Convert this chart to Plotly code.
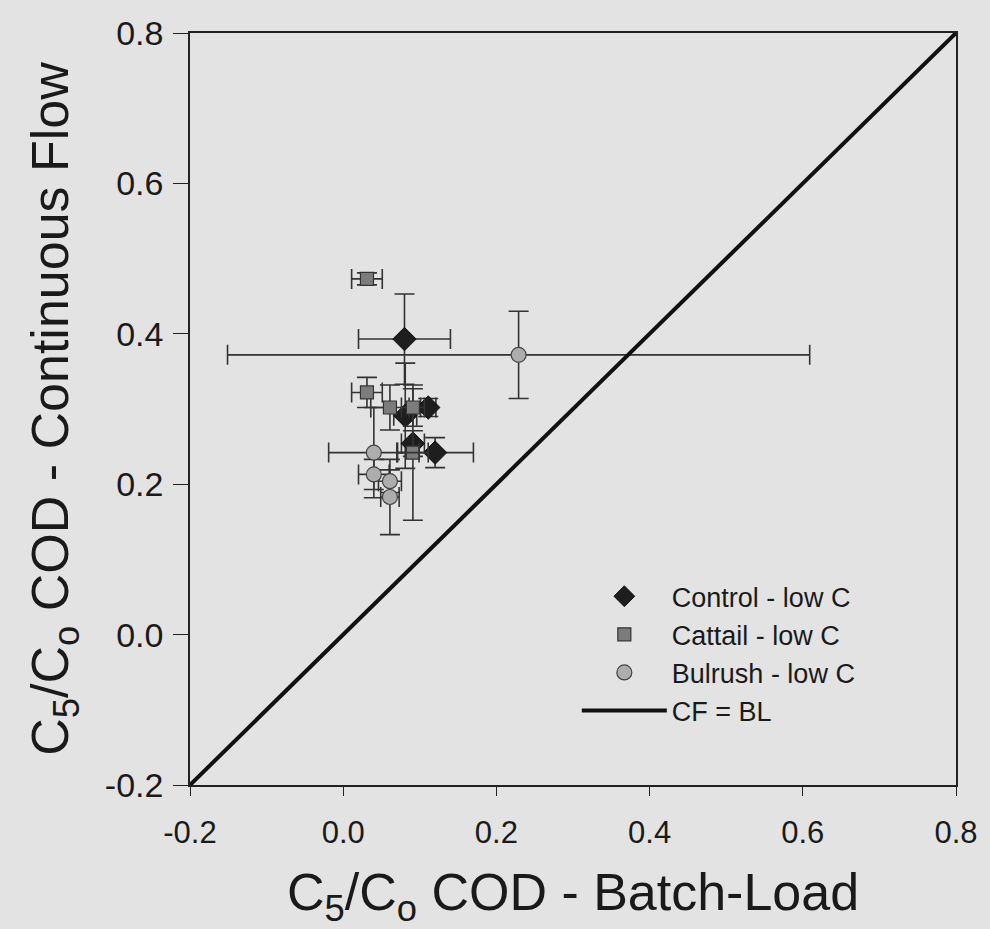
import plotly.graph_objects as go

# Control - low C
ctrl_x = [0.080, 0.081, 0.111, 0.091, 0.120]
ctrl_y = [0.393, 0.291, 0.302, 0.254, 0.242]
ctrl_ex = [0.060, 0.015, 0.010, 0.015, 0.050]
ctrl_ey = [0.060, 0.070, 0.012, 0.017, 0.020]

# Cattail - low C
cat_x = [0.031, 0.031, 0.061, 0.091, 0.091]
cat_y = [0.473, 0.322, 0.302, 0.302, 0.242]
cat_ex = [0.020, 0.020, 0.025, 0.015, 0.020]
cat_ey = [0.008, 0.020, 0.030, 0.025, 0.090]

# Bulrush - low C
bul_x = [0.229, 0.040, 0.040, 0.061, 0.061]
bul_y = [0.372, 0.242, 0.213, 0.204, 0.183]
bul_ex = [0.380, 0.059, 0.020, 0.015, 0.012]
bul_ey = [0.058, 0.060, 0.020, 0.015, 0.050]

# 1:1 line
line_x = [-0.2, 0.8]
line_y = [-0.2, 0.8]

tick_vals = [-0.2, 0.0, 0.2, 0.4, 0.6, 0.8]
tick_text = ["-0.2", "0.0", "0.2", "0.4", "0.6", "0.8"]

ebar = dict(type="data", thickness=1.6, width=10, color="#333333")

fig = go.Figure()
fig.add_trace(go.Scatter(
    x=ctrl_x, y=ctrl_y, mode="markers", name="Control - low C",
    error_x=dict(array=ctrl_ex, **ebar), error_y=dict(array=ctrl_ey, **ebar),
    marker=dict(symbol="diamond", size=18, color="#1e1e1e", line=dict(color="#111111", width=1))))
fig.add_trace(go.Scatter(
    x=cat_x, y=cat_y, mode="markers", name="Cattail - low C",
    error_x=dict(array=cat_ex, **ebar), error_y=dict(array=cat_ey, **ebar),
    marker=dict(symbol="square", size=13, color="#7c7c7c", line=dict(color="#333333", width=1.2))))
fig.add_trace(go.Scatter(
    x=bul_x, y=bul_y, mode="markers", name="Bulrush - low C",
    error_x=dict(array=bul_ex, **ebar), error_y=dict(array=bul_ey, **ebar),
    marker=dict(symbol="circle", size=15, color="#adadad", line=dict(color="#444444", width=1.2))))
fig.add_trace(go.Scatter(
    x=line_x, y=line_y, mode="lines", name="CF = BL",
    line=dict(color="#111111", width=4)))

font_main = "Liberation Sans, Arial, sans-serif"
fig.update_layout(
    width=990, height=929,
    margin=dict(l=190, r=28, t=33, b=144),
    paper_bgcolor="#e3e3e3", plot_bgcolor="#e3e3e3",
    showlegend=True,
    legend=dict(x=0.505, y=0.283, xanchor="left", yanchor="top",
                bgcolor="rgba(0,0,0,0)", font=dict(size=27, color="#1a1a1a", family=font_main),
                itemwidth=85, tracegroupgap=0),
    xaxis=dict(range=[-0.2, 0.8], tickvals=tick_vals, ticktext=tick_text,
               showgrid=False, zeroline=False, showline=True, linecolor="#222222",
               linewidth=1.5, mirror=True, ticks="outside", ticklen=9,
               ticklabelstandoff=10,
               tickcolor="#222222", tickfont=dict(size=31, color="#1a1a1a", family=font_main),
               title=dict(text="C<sub>5</sub>/C<sub>o</sub> COD - Batch-Load",
                          font=dict(size=52, color="#1a1a1a", family=font_main), standoff=30)),
    yaxis=dict(range=[-0.2, 0.8], tickvals=tick_vals, ticktext=tick_text,
               showgrid=False, zeroline=False, showline=True, linecolor="#222222",
               linewidth=1.5, mirror=True, ticks="outside", ticklen=15,
               ticklabelstandoff=3,
               tickcolor="#222222",
               tickfont=dict(size=34, color="#1a1a1a", family=font_main),
               title=dict(text="C<sub>5</sub>/C<sub>o</sub> COD - Continuous Flow",
                          font=dict(size=52, color="#1a1a1a", family=font_main), standoff=20)),
)

fig.write_html("out.html")
